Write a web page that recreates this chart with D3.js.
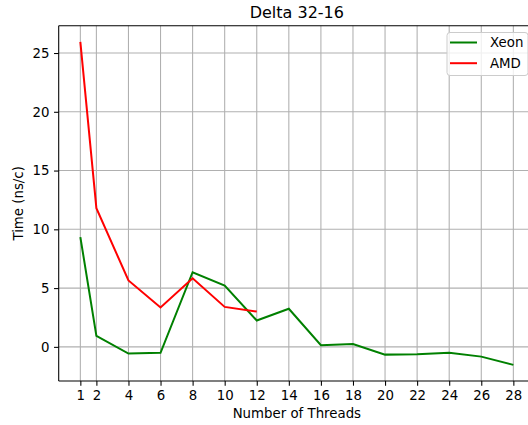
<!DOCTYPE html>
<html>
<head>
<meta charset="utf-8">
<script src="https://cdn.jsdelivr.net/npm/d3@7"></script>
<style>
body { margin: 0; background: #fff; }
text { font-family: "DejaVu Sans", sans-serif; fill: #000; }
</style>
</head>
<body>
<svg id="chart" width="528" height="425"></svg>
<script>
const threads = [1, 2, 4, 6, 8, 10, 12, 14, 16, 18, 20, 22, 24, 26, 28];
const xeon = [9.34, 0.94, -0.57, -0.51, 6.35, 5.22, 2.24, 3.24, 0.14, 0.25, -0.66, -0.63, -0.51, -0.83, -1.53];
const amdThreads = [1, 2, 4, 6, 8, 10, 12];
const amd = [25.95, 11.8, 5.65, 3.35, 5.84, 3.4, 3.0];
const xTicks = [1, 2, 4, 6, 8, 10, 12, 14, 16, 18, 20, 22, 24, 26, 28];
const yTicks = [0, 5, 10, 15, 20, 25];
const seriesNames = ["Xeon", "AMD"];
const seriesColors = ["#008000", "#ff0000"];

const svg = d3.select("#chart");
const pL = 58.7, pR = 535, pT = 25.7, pB = 381;

const xMin = 1, xMax = 28, xPad = (xMax - xMin) * 0.05;
const allY = xeon.concat(amd);
const yMin = d3.min(allY), yMax = d3.max(allY), yPad = (yMax - yMin) * 0.05;

const x = d3.scaleLinear().domain([xMin - xPad, xMax + xPad]).range([pL, pR]);
const y = d3.scaleLinear().domain([yMin - yPad, yMax + yPad]).range([pB, pT]);

// grid
const g = svg.append("g");
g.selectAll(".vg").data(xTicks).enter().append("line")
  .attr("x1", d => x(d)).attr("x2", d => x(d)).attr("y1", pT).attr("y2", pB)
  .attr("stroke", "#b0b0b0").attr("stroke-width", 1.07);
g.selectAll(".hg").data(yTicks).enter().append("line")
  .attr("x1", pL).attr("x2", pR).attr("y1", d => y(d)).attr("y2", d => y(d))
  .attr("stroke", "#b0b0b0").attr("stroke-width", 1.07);

// lines
const line = d3.line().x(d => x(d[0])).y(d => y(d[1]));
svg.append("path").datum(threads.map((t, i) => [t, xeon[i]]))
  .attr("d", line).attr("fill", "none").attr("stroke", seriesColors[0]).attr("stroke-width", 2);
svg.append("path").datum(amdThreads.map((t, i) => [t, amd[i]]))
  .attr("d", line).attr("fill", "none").attr("stroke", seriesColors[1]).attr("stroke-width", 2);

// axes
const xAxis = d3.axisBottom(x).tickValues(xTicks).tickSize(4.67).tickPadding(4.67).tickFormat(d3.format("d"));
const yAxis = d3.axisLeft(y).tickValues(yTicks).tickSize(4.67).tickPadding(4.67).tickFormat(d3.format("d"));
const xg = svg.append("g").attr("transform", `translate(0,${pB})`).call(xAxis);
const yg = svg.append("g").attr("transform", `translate(${pL},0)`).call(yAxis);
[xg, yg].forEach(a => {
  a.selectAll("text").attr("font-size", "13.33px").attr("font-family", "DejaVu Sans").attr("fill", "#000");
  a.selectAll("line").attr("stroke", "#000").attr("stroke-width", 1.07);
  a.select(".domain").remove();
});
// spines
svg.append("line").attr("x1", pL).attr("x2", pR).attr("y1", pB).attr("y2", pB).attr("stroke", "#000").attr("stroke-width", 1.07);
svg.append("line").attr("x1", pL).attr("x2", pR).attr("y1", pT).attr("y2", pT).attr("stroke", "#000").attr("stroke-width", 1.07);
svg.append("line").attr("x1", pL).attr("x2", pL).attr("y1", pT).attr("y2", pB).attr("stroke", "#000").attr("stroke-width", 1.07);

// title & labels
svg.append("text").attr("x", (pL + pR) / 2).attr("y", 18).attr("text-anchor", "middle")
  .attr("font-size", "16px").text("Delta 32-16");
svg.append("text").attr("x", (pL + pR) / 2).attr("y", 418).attr("text-anchor", "middle")
  .attr("font-size", "13.33px").text("Number of Threads");
svg.append("text").attr("transform", `translate(23,${(pT + pB) / 2}) rotate(-90)`).attr("text-anchor", "middle")
  .attr("font-size", "13.33px").text("Time (ns/c)");

// legend
const lg = svg.append("g");
lg.append("rect").attr("x", 447).attr("y", 32.5).attr("width", 81).attr("height", 43).attr("rx", 3)
  .attr("fill", "#fff").attr("fill-opacity", 0.8).attr("stroke", "#cccccc").attr("stroke-width", 1);
seriesNames.forEach((n, i) => {
  const yy = 42.5 + i * 20.7;
  lg.append("line").attr("x1", 450).attr("x2", 477).attr("y1", yy).attr("y2", yy)
    .attr("stroke", seriesColors[i]).attr("stroke-width", 2);
  lg.append("text").attr("x", 490).attr("y", yy + 4.8).attr("font-size", "13.33px").text(n);
});
</script>
</body>
</html>
